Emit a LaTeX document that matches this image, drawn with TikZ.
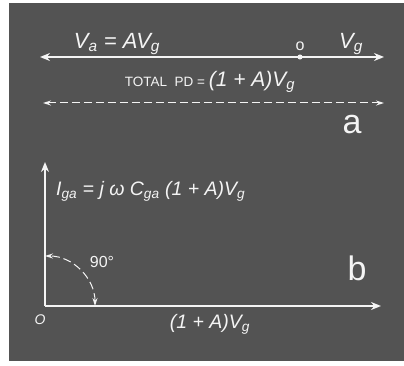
\documentclass[tikz,border=0pt]{standalone}
\usepackage{fontspec}
\setmainfont{Liberation Sans}
\usetikzlibrary{arrows.meta}
\definecolor{bgc}{HTML}{535353}
\definecolor{ink}{HTML}{F4F4F4}
\tikzset{
  mainline/.style={draw=ink, line width=2.2pt, {Stealth[length=10pt,width=8pt]}-{Stealth[length=10pt,width=8pt]}},
  dashline/.style={draw=ink, line width=1pt, dash pattern=on 8pt off 4pt, {Stealth[length=8pt,width=5pt]}-{Stealth[length=8pt,width=5pt]}},
  axis/.style={draw=ink, line width=2.2pt, -{Stealth[length=10pt,width=8pt]}},
  lbl/.style={text=ink, inner sep=0pt, font=\itshape},
  big/.style={text=ink, inner sep=0pt, font=\fontsize{34}{36}\selectfont},
}
\begin{document}
\begin{tikzpicture}[x=1pt,y=-1pt]
\useasboundingbox (0,0) rectangle (404,366);
\fill[white] (0,0) rectangle (404,366);
\fill[bgc] (9,3) rectangle (404,361);
% part a
\coordinate (aL) at (40,57);
\coordinate (aR) at (384,57);
\draw[mainline] (aL) -- (aR);
\node[circle, fill=ink, inner sep=1.8pt] (dot) at (300,57) {};
\node[lbl, font=\fontsize{16}{17}\selectfont, anchor=south] (o) at (300,51) {o};
\node[lbl, font=\itshape\fontsize{22}{24}\selectfont] (va) at (117,44) {V\textsubscript{a} = AV\textsubscript{g}};
\node[lbl, font=\itshape\fontsize{22}{24}\selectfont] (vg) at (351,44) {V\textsubscript{g}};
\node[lbl, font=\fontsize{13.5}{15}\selectfont] (tot) at (210,82) {TOTAL\ \ PD = \fontsize{21}{22}\selectfont\itshape(1 + A)V\textsubscript{g}};
\coordinate (dL) at (43,103);
\coordinate (dR) at (384,103);
\draw[dashline] (dL) -- (dR);
\node[big] (a) at (352,125) {a};
% part b
\coordinate (O) at (45,306);
\coordinate (Xend) at (381,306);
\coordinate (Yend) at (45,162);
\draw[axis] (O) -- (Xend);
\draw[axis] (O) -- (Yend);
\node[lbl, font=\itshape\fontsize{19.5}{21}\selectfont, anchor=west] (iga) at (56,191) {I\textsubscript{ga} = j ω C\textsubscript{ga} (1 + A)V\textsubscript{g}};
\coordinate (arcS) at (95,306);
\draw[dashline] (arcS) arc (0:-90:50);
\node[lbl, font=\fontsize{16}{17}\selectfont] (deg) at (102,262) {90°};
\node[big] (b) at (357,268) {b};
\node[lbl, font=\itshape\fontsize{14}{15}\selectfont] (orig) at (40,320) {O};
\node[lbl, font=\itshape\fontsize{19.5}{21}\selectfont] (xl) at (210,324) {(1 + A)V\textsubscript{g}};
\end{tikzpicture}
\end{document}
